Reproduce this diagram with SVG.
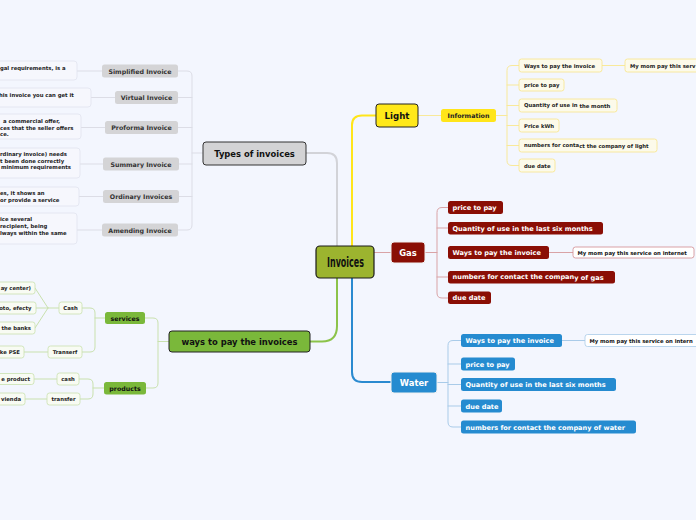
<svg xmlns="http://www.w3.org/2000/svg" width="696" height="520" viewBox="0 0 696 520">
<style>
text{font-family:"DejaVu Sans","Verdana",sans-serif;font-weight:bold;}
.t5{font-size:5.3px;fill:#222;}
.t6{font-size:6.3px;fill:#333;}
.tw{font-size:6.6px;fill:#fff;}
.c{fill:none;stroke-linecap:round;stroke-linejoin:round;}
.cg{stroke:#dcdde6;stroke-width:1;}
.cy{stroke:#f8e99a;stroke-width:1;}
.cr{stroke:#d9a3a6;stroke-width:1;}
.cb{stroke:#a9cbe9;stroke-width:1;}
.cgr{stroke:#c9e1ae;stroke-width:1;}
.lg{fill:#f6f7fd;stroke:#e1e3ef;stroke-width:0.8;}
.gy{fill:#d4d4d6;}
.ly{fill:#fcfaea;stroke:#f8e58a;stroke-width:0.8;}
.lr{fill:#8a0e05;}
.lb{fill:#258bd0;}
.lgr{fill:#f8fbf3;stroke:#c9e1ae;stroke-width:0.8;}
.gn{fill:#7ab83a;}
</style>
<rect width="696" height="520" fill="#f3f6fe"/>
<g id="connectors">
<path class="c" stroke="#d2d3d8" stroke-width="2" d="M306,153 H327 Q337,153 337,163 V246"/>
<path class="c" stroke="#ffe51a" stroke-width="2" d="M352,246 V125 Q352,115.5 362,115.5 H376"/>
<path class="c" stroke="#2a8ad0" stroke-width="2" d="M352,278 V372 Q352,382 362,382 H391"/>
<path class="c" stroke="#8cc34a" stroke-width="2" d="M310,341.5 H322 Q337,341.5 337,326 V278"/>
<path class="c cr" d="M374,252.5 H391"/>
<path class="c cg" d="M203,153 H192 M178,71 H187 Q192,71 192,76 V225 Q192,230 187,230 H178 M178,97.5 H192 M178,127.5 H192 M179,164 H192 M179,196.5 H192"/>
<path class="c cg" d="M102,71 H77 M115,97.5 H91 M105,127.5 H81 M103,164 H80 M103,196.5 H79 M102,230 H77"/>
<path class="c cy" d="M418,115.5 H441 M496,115.5 H507 M519,65.5 H512 Q507,65.5 507,70.5 V160.5 Q507,165.5 512,165.5 H519 M507,85 H519 M507,105.5 H519 M507,125.5 H519 M507,145.5 H519 M602,65.5 H625"/>
<path class="c cr" d="M425,252.5 H437 M448,207.5 H442 Q437,207.5 437,212.5 V293 Q437,298 442,298 H448 M437,228 H448 M437,277 H448 M549,252.5 H573"/>
<path class="c cb" d="M437,382.5 H448 M461,340.5 H453 Q448,340.5 448,345.5 V422 Q448,427 453,427 H461 M448,364 H461 M448,384.5 H461 M448,406 H461 M562,340.5 H585"/>
<path class="c cgr" d="M169,341.5 H158 M145,318 H153 Q158,318 158,323 V383 Q158,388 153,388 H146 M105,318 H95 M82,308 H90 Q95,308 95,313 V347 Q95,352 90,352 H82 M59,308 H48 L35,288 M48,308 H36 M48,308 L35,328 M48,352 H24 M104,388 H93 M79,379 H88 Q93,379 93,384 V394 Q93,399 88,399 H80 M57,379 H34 M47,399 H25"/>
</g>
<g id="invoices"><rect x="316" y="246" width="58" height="32" rx="4" fill="#9cb42f" stroke="#1a1a1a" stroke-width="1.2"/><text x="327" y="267" textLength="37" lengthAdjust="spacingAndGlyphs" style="font-family:'DejaVu Sans Condensed','Liberation Sans Narrow',sans-serif;font-size:13.5px;font-weight:bold;fill:#111">Invoices</text></g>
<g id="types"><rect x="203" y="142" width="103" height="23" rx="3" fill="#d3d3d5" stroke="#333" stroke-width="1"/><text x="254.5" y="156.5" text-anchor="middle" style="font-size:8.4px;fill:#111">Types of invoices</text></g>
<g id="simplified"><rect class="gy" x="102" y="64.5" width="76" height="13" rx="2.5"/><text class="t6" x="140" y="73.5" text-anchor="middle">Simplified Invoice</text></g>
<g id="virtual"><rect class="gy" x="115" y="91" width="63" height="13" rx="2.5"/><text class="t6" x="146.5" y="100" text-anchor="middle">Virtual Invoice</text></g>
<g id="proforma"><rect class="gy" x="105" y="121" width="73" height="13" rx="2.5"/><text class="t6" x="141.5" y="130" text-anchor="middle">Proforma Invoice</text></g>
<g id="summary"><rect class="gy" x="103" y="157.5" width="76" height="13" rx="2.5"/><text class="t6" x="141" y="166.5" text-anchor="middle">Summary Invoice</text></g>
<g id="ordinary"><rect class="gy" x="103" y="190" width="76" height="13" rx="2.5"/><text class="t6" x="141" y="199" text-anchor="middle">Ordinary Invoices</text></g>
<g id="amending"><rect class="gy" x="102" y="223.5" width="76" height="13" rx="2.5"/><text class="t6" x="140" y="232.5" text-anchor="middle">Amending Invoice</text></g>
<g id="leaf-simplified"><rect class="lg" x="-6" y="61" width="83" height="19" rx="3"/><text class="t5" x="0" y="70">gal requirements, is a</text></g>
<g id="leaf-virtual"><rect class="lg" x="-6" y="88" width="97" height="19" rx="3"/><text class="t5" x="-1" y="96.5">his invoice you can get it</text></g>
<g id="leaf-proforma"><rect class="lg" x="-6" y="114" width="87" height="25" rx="3"/><text class="t5" x="3" y="123">a commercial offer,</text><text class="t5" x="0" y="129.5">ces that the seller offers</text><text class="t5" x="0" y="136">ce.</text></g>
<g id="leaf-summary"><rect class="lg" x="-6" y="148" width="86" height="30" rx="3"/><text class="t5" x="0" y="156">rdinary invoice) needs</text><text class="t5" x="0" y="162.5">t been done correctly</text><text class="t5" x="1" y="169">minimum requirements</text></g>
<g id="leaf-ordinary"><rect class="lg" x="-6" y="187" width="85" height="19" rx="3"/><text class="t5" x="0" y="195">es, it shows an</text><text class="t5" x="0" y="202">or provide a service</text></g>
<g id="leaf-amending"><rect class="lg" x="-6" y="213" width="83" height="31" rx="3"/><text class="t5" x="0" y="221">ice several</text><text class="t5" x="0" y="228">recipient, being</text><text class="t5" x="0" y="235">lways within the same</text></g>
<g id="light"><rect x="376" y="104" width="42" height="23" rx="3" fill="#ffe81a" stroke="#222" stroke-width="1"/><text x="397" y="118.5" text-anchor="middle" style="font-size:8.6px;fill:#111">Light</text></g>
<g id="information"><rect x="441" y="109" width="55" height="13" rx="2.5" fill="#ffe51a"/><text class="t6" x="468.5" y="118" text-anchor="middle" style="fill:#222">Information</text></g>
<g id="light-ways"><rect class="ly" x="519" y="59" width="83" height="13" rx="2.5"/><text class="t5" x="524" y="67.5">Ways to pay the invoice</text></g>
<g id="light-mom"><rect class="ly" x="625" y="59" width="80" height="13" rx="2.5"/><text class="t5" x="630" y="67.5">My mom pay this serv</text></g>
<g id="light-price"><rect class="ly" x="519" y="79" width="45" height="12" rx="2.5"/><text class="t5" x="524" y="87">price to pay</text></g>
<g id="light-quantity"><rect class="ly" x="519" y="99" width="98" height="13" rx="2.5"/><text class="t5" x="524" y="106.5">Quantity of use in <tspan dy="1.3">the month</tspan></text></g>
<g id="light-kwh"><rect class="ly" x="519" y="119" width="40" height="13" rx="2.5"/><text class="t5" x="524" y="127.5">Price kWh</text></g>
<g id="light-numbers"><rect class="ly" x="519" y="139" width="138" height="13" rx="2.5"/><text class="t5" x="524" y="146.5">numbers for conta<tspan dy="1.3">ct the company of light</tspan></text></g>
<g id="light-due"><rect class="ly" x="519" y="159" width="36" height="13" rx="2.5"/><text class="t5" x="524" y="167.5">due date</text></g>
<g id="gas"><rect x="391" y="242" width="34" height="21" rx="3" fill="#8a0e05" stroke="#f0f0f0" stroke-width="1"/><text x="408" y="255.8" text-anchor="middle" style="font-size:8.4px;fill:#fff">Gas</text></g>
<g id="gas-price"><rect class="lr" x="448" y="201" width="55" height="13" rx="2.5"/><text class="tw" x="452.5" y="210">price to pay</text></g>
<g id="gas-quantity"><rect class="lr" x="448" y="222" width="155" height="12.5" rx="2.5"/><text class="tw" x="452.5" y="230.8">Quantity of use in the last six months</text></g>
<g id="gas-ways"><rect class="lr" x="448" y="246" width="101" height="13" rx="2.5"/><text class="tw" x="452.5" y="255">Ways to pay the invoice</text></g>
<g id="gas-mom"><rect x="573" y="247" width="121" height="11" rx="2.5" fill="#fff" stroke="#d08a8f" stroke-width="0.8"/><text class="t5" x="577.5" y="254.5" style="fill:#111">My mom pay this service on internet</text></g>
<g id="gas-numbers"><rect class="lr" x="448" y="271" width="167" height="12.5" rx="2.5"/><text class="tw" x="452.5" y="279">numbers for contact the compan<tspan dy="1.3">y of gas</tspan></text></g>
<g id="gas-due"><rect class="lr" x="448" y="291.5" width="43" height="12.5" rx="2.5"/><text class="tw" x="452.5" y="300.3">due date</text></g>
<g id="water"><rect x="391" y="372" width="46" height="21" rx="3" fill="#258bd0" stroke="#f0f0f0" stroke-width="1"/><text x="414" y="385.8" text-anchor="middle" style="font-size:8.4px;fill:#fff">Water</text></g>
<g id="water-ways"><rect class="lb" x="461" y="334" width="101" height="13" rx="2.5"/><text class="tw" x="465.5" y="343">Ways to pay the invoice</text></g>
<g id="water-mom"><rect x="585" y="334.5" width="121" height="12" rx="2.5" fill="#fff" stroke="#a9cbe9" stroke-width="0.8"/><text class="t5" x="589.5" y="342.5" style="fill:#111">My mom pay this service on intern</text></g>
<g id="water-price"><rect class="lb" x="461" y="357.5" width="54" height="13" rx="2.5"/><text class="tw" x="465.5" y="366.5">price to pay</text></g>
<g id="water-quantity"><rect class="lb" x="461" y="378" width="155" height="13" rx="2.5"/><text class="tw" x="465.5" y="387">Quantity of use in the last six months</text></g>
<g id="water-due"><rect class="lb" x="461" y="399.5" width="41" height="13" rx="2.5"/><text class="tw" x="465.5" y="408.5">due date</text></g>
<g id="water-numbers"><rect class="lb" x="461" y="420.5" width="175" height="13" rx="2.5"/><text class="tw" x="465.5" y="429.5">numbers for contact the company of water</text></g>
<g id="ways"><rect x="169" y="331" width="141" height="21" rx="3" fill="#7ab83a" stroke="#222" stroke-width="1"/><text x="239.5" y="344.8" text-anchor="middle" style="font-size:8.4px;fill:#111">ways to pay the invoices</text></g>
<g id="services"><rect class="gn" x="105" y="312" width="40" height="12" rx="2.5"/><text class="t6" x="125" y="320.5" text-anchor="middle" style="fill:#111">services</text></g>
<g id="products"><rect class="gn" x="104" y="382" width="42" height="12.5" rx="2.5"/><text class="t6" x="125" y="390.8" text-anchor="middle" style="fill:#111">products</text></g>
<g id="cash-services"><rect class="lgr" x="59" y="302" width="23" height="12" rx="2.5"/><text class="t5" x="70.5" y="310" text-anchor="middle">Cash</text></g>
<g id="transerf"><rect class="lgr" x="48" y="346" width="34" height="12" rx="2.5"/><text class="t5" x="65" y="354" text-anchor="middle">Transerf</text></g>
<g id="cash-products"><rect class="lgr" x="57" y="373" width="22" height="12" rx="2.5"/><text class="t5" x="68" y="381" text-anchor="middle">cash</text></g>
<g id="transfer"><rect class="lgr" x="47" y="393" width="33" height="12" rx="2.5"/><text class="t5" x="63.5" y="401" text-anchor="middle">transfer</text></g>
<g id="leaf-center"><rect class="lgr" x="-6" y="282" width="41" height="12" rx="2.5"/><text class="t5" x="31" y="290" text-anchor="end">ay center)</text></g>
<g id="leaf-efecty"><rect class="lgr" x="-6" y="302" width="42" height="12" rx="2.5"/><text class="t5" x="31.5" y="310" text-anchor="end">oto, efecty</text></g>
<g id="leaf-banks"><rect class="lgr" x="-6" y="322" width="41" height="12" rx="2.5"/><text class="t5" x="31" y="330" text-anchor="end">the banks</text></g>
<g id="leaf-pse"><rect class="lgr" x="-6" y="346" width="30" height="12" rx="2.5"/><text class="t5" x="20" y="354" text-anchor="end">ke PSE</text></g>
<g id="leaf-product"><rect class="lgr" x="-6" y="373.5" width="40" height="11" rx="2.5"/><text class="t5" x="30" y="381" text-anchor="end">e product</text></g>
<g id="leaf-vienda"><rect class="lgr" x="-6" y="393" width="31" height="12" rx="2.5"/><text class="t5" x="21" y="401" text-anchor="end">vienda</text></g>
</svg>
